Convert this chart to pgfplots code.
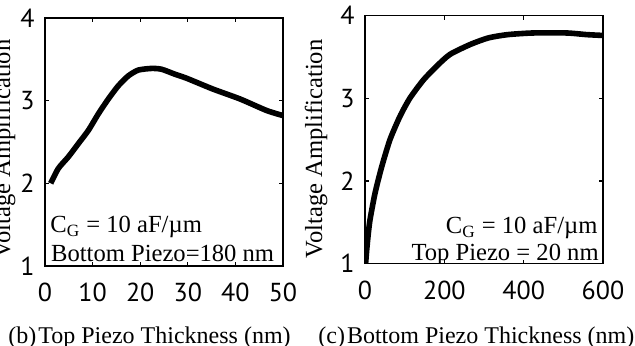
\documentclass[border=0pt]{standalone}
\usepackage{pgfplots}
\pgfplotsset{compat=1.18}
\usepackage{fontspec}
\setmainfont{Liberation Serif}
\newfontfamily\tickfont{PT Sans}
\begin{document}
\begin{tikzpicture}[x=1pt,y=1pt]
\useasboundingbox (0,0) rectangle (317.5,172.5);
\pgfplotsset{
  every axis/.append style={
    scale only axis, width=119pt, height=124pt,
    axis line style={line width=0.6pt},
    every tick/.style={line width=0.6pt, black},
    major tick length=2pt,
    tick align=inside,
    /pgf/number format/assume math mode=true,
    ticklabel style={font=\tickfont\fontsize{13}{15}\selectfont},
    xticklabel style={inner sep=0pt, anchor=north, yshift=-8.3pt},
    yticklabel style={inner sep=0pt, anchor=east, xshift=-5pt},
    ymin=1, ymax=4, ytick={1,2,3,4},
    clip=true,
  }
}
\begin{axis}[at={(22.5pt,39.5pt)}, anchor=south west,
  xmin=0, xmax=50, xtick={0,10,20,30,40,50}]
\addplot[black, line width=2.8pt, line join=round, smooth, tension=0.4] coordinates {
(1.2,2.0)(2.8,2.18)(4.9,2.32)(7.0,2.48)(9.1,2.64)(11.2,2.84)(13.3,3.02)(15.4,3.18)(17.5,3.30)(19.6,3.37)(22.4,3.39)(24.5,3.38)(27.3,3.32)(29.8,3.27)(35.3,3.14)(41,3.02)(46.6,2.88)(50,2.82)
};
\node[anchor=base west, inner sep=0pt, font=\fontsize{12.3}{14}\selectfont] at (axis cs:1.05,1.40) {C\textsubscript{G} = 10 aF/µm};
\node[anchor=base west, inner sep=0pt, font=\fontsize{12.3}{14}\selectfont] at (axis cs:1.2,1.05) {Bottom Piezo=180 nm};
\end{axis}
\begin{axis}[at={(182.5pt,40.7pt)}, anchor=south west,
  xmin=0, xmax=600, xtick={0,200,400,600}]
\addplot[black, line width=2.8pt, line join=round, smooth, tension=0.4] coordinates {
(1.5,1.0)(4.2,1.16)(8,1.35)(12.6,1.53)(25.2,1.85)(42,2.17)(63,2.50)(88,2.78)(113,3.00)(147,3.22)(181,3.39)(214,3.53)(265,3.65)(311,3.73)(360,3.77)(424,3.79)(508,3.79)(559,3.77)(600,3.76)
};
\node[anchor=base east, inner sep=0pt, font=\fontsize{12.3}{14}\selectfont] at (axis cs:587,1.364) {C\textsubscript{G} = 10 aF/µm};
\node[anchor=base east, inner sep=0pt, font=\fontsize{12.3}{14}\selectfont] at (axis cs:590,1.04) {Top Piezo = 20 nm};
\end{axis}
\node[rotate=90, anchor=base, inner sep=0pt, font=\fontsize{12.3}{14}\selectfont] at (5,98) {Voltage Amplification};
\node[rotate=90, anchor=base, inner sep=0pt, font=\fontsize{12.3}{14}\selectfont] at (161,98) {Voltage Amplification};
\node[anchor=base west, inner sep=0pt, font=\fontsize{12}{14}\selectfont] at (4,1) {(b)\kern1pt Top Piezo Thickness (nm)};
\node[anchor=base west, inner sep=0pt, font=\fontsize{12}{14}\selectfont] at (159,1) {(c)\kern1pt Bottom Piezo Thickness (nm)};
\end{tikzpicture}
\end{document}
